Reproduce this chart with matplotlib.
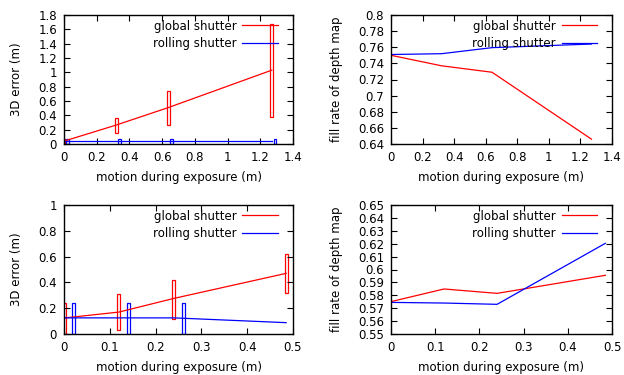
import numpy as np
import matplotlib
matplotlib.use('Agg')
import matplotlib.pyplot as plt
from matplotlib.ticker import FuncFormatter

# top row: large motion
motion1 = [0.0, 0.32, 0.64, 1.27]
gs_err1 = [0.04, 0.265, 0.51, 1.03]
gs_lo1 = [0.0, 0.15, 0.27, 0.38]
gs_hi1 = [0.065, 0.36, 0.74, 1.68]
rs_err1 = [0.037, 0.037, 0.037, 0.037]
rs_lo1 = [0.005, 0.005, 0.005, 0.005]
rs_hi1 = [0.07, 0.07, 0.07, 0.07]
gs_fill1 = [0.750, 0.737, 0.729, 0.646]
rs_fill1 = [0.751, 0.752, 0.7595, 0.764]

# bottom row: small motion
motion2 = [0.0, 0.12, 0.24, 0.485]
gs_err2 = [0.124, 0.17, 0.276, 0.47]
gs_lo2 = [0.0, 0.03, 0.115, 0.32]
gs_hi2 = [0.24, 0.31, 0.42, 0.62]
rs_err2 = [0.125, 0.125, 0.125, 0.088]
rs_lo2 = [0.0, 0.0, 0.0, 0.0]
rs_hi2 = [0.24, 0.24, 0.24, 0.24]
gs_fill2 = [0.5751, 0.5849, 0.5815, 0.5955]
rs_fill2 = [0.5745, 0.574, 0.573, 0.6203]

plt.rcParams['font.family'] = 'DejaVu Sans'
fs = 8.5

W, H = 624, 375
fig = plt.figure(figsize=(W / 100, H / 100), dpi=100)


def px_axes(l, t, r, b):
    return fig.add_axes([l / W, (H - b) / H, (r - l) / W, (b - t) / H])


gfmt = FuncFormatter(lambda v, p: '%g' % round(v, 4))


def style(ax, xlim, xticks, ylim, yticks, ylabel):
    ax.set_xlim(*xlim)
    ax.set_ylim(*ylim)
    ax.set_xticks(xticks)
    ax.set_yticks(yticks)
    ax.xaxis.set_major_formatter(gfmt)
    ax.yaxis.set_major_formatter(gfmt)
    ax.tick_params(direction='in', top=True, right=True, length=4, width=0.8,
                   labelsize=fs, pad=5)
    for s in ax.spines.values():
        s.set_linewidth(1.0)
    ax.set_xlabel('motion during exposure (m)', fontsize=fs, labelpad=5)
    ax.set_ylabel(ylabel, fontsize=fs, labelpad=11)
    ax.legend(loc='upper right', bbox_to_anchor=(0.934, 0.965), frameon=False,
              markerfirst=False, handlelength=3.0, handletextpad=0.5,
              borderaxespad=0, borderpad=0, labelspacing=0.35, fontsize=fs)


def error_plot(ax, x, gs, glo, ghi, rs, rlo, rhi, w, off):
    x = np.array(x)
    ax.plot(x, gs, color='red', lw=0.9, label='global shutter')
    ax.plot(x, rs, color='blue', lw=0.9, label='rolling shutter')
    ax.bar(x, np.array(ghi) - np.array(glo), bottom=glo, width=w, fill=False,
           edgecolor='red', lw=0.9)
    ax.bar(x + off, np.array(rhi) - np.array(rlo), bottom=rlo, width=w,
           fill=False, edgecolor='blue', lw=0.9)


ax1 = px_axes(64, 15, 293, 144)
error_plot(ax1, motion1, gs_err1, gs_lo1, gs_hi1, rs_err1, rs_lo1, rs_hi1, 0.018, 0.02)
style(ax1, (0, 1.4), np.arange(0, 1.41, 0.2), (0, 1.8), np.arange(0, 1.81, 0.2), '3D error (m)')

ax2 = px_axes(391, 15, 612, 144)
ax2.plot(motion1, gs_fill1, color='red', lw=0.9, label='global shutter')
ax2.plot(motion1, rs_fill1, color='blue', lw=0.9, label='rolling shutter')
style(ax2, (0, 1.4), np.arange(0, 1.41, 0.2), (0.64, 0.8), np.arange(0.64, 0.801, 0.02), 'fill rate of depth map')

ax3 = px_axes(64, 205, 293, 334)
error_plot(ax3, motion2, gs_err2, gs_lo2, gs_hi2, rs_err2, rs_lo2, rs_hi2, 0.0066, 0.02)
style(ax3, (0, 0.5), np.arange(0, 0.51, 0.1), (0, 1.0), np.arange(0, 1.01, 0.2), '3D error (m)')

ax4 = px_axes(391, 205, 612, 334)
ax4.plot(motion2, gs_fill2, color='red', lw=0.9, label='global shutter')
ax4.plot(motion2, rs_fill2, color='blue', lw=0.9, label='rolling shutter')
style(ax4, (0, 0.5), np.arange(0, 0.51, 0.1), (0.55, 0.65), np.arange(0.55, 0.651, 0.01), 'fill rate of depth map')

fig.savefig('out.png', dpi=100)
